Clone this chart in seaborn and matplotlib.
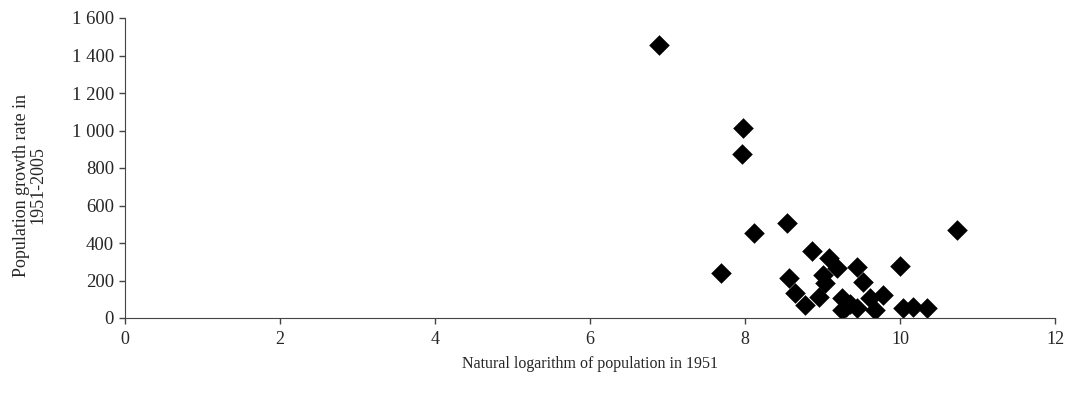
import numpy as np
import pandas as pd
import seaborn as sns
import matplotlib.pyplot as plt
from matplotlib.ticker import FuncFormatter

# natural log of 1951 population vs growth rate 1951-2005
log_pop = [6.89, 7.98, 7.96, 7.69, 8.12, 8.54, 8.86, 9.08, 9.19, 9.44,
           8.57, 9.00, 8.65, 8.78, 8.95, 9.03, 9.25, 9.25, 9.44, 9.52,
           9.61, 9.68, 9.78, 10.00, 10.04, 10.17, 10.35, 10.73, 9.35, 9.30]
growth = [1455, 1015, 875, 242, 455, 508, 357, 318, 265, 274,
          212, 229, 132, 69, 110, 185, 105, 43, 52, 194,
          105, 43, 123, 277, 52, 57, 52, 472, 75, 60]

df = pd.DataFrame({'log_pop': log_pop, 'growth': growth})

sns.set_style('ticks')
plt.rcParams['font.family'] = ['Liberation Serif', 'DejaVu Serif']

fig = plt.figure(figsize=(10.75, 4), dpi=100)
ax = fig.add_axes([0.1163, 0.205, 0.8651, 0.75])
sns.scatterplot(data=df, x='log_pop', y='growth', marker='D', s=110,
                color='black', edgecolor='black', linewidth=0, ax=ax)

ax.set_xlim(0, 12)
ax.set_ylim(0, 1600)
ax.set_xticks(range(0, 13, 2))
ax.set_yticks(range(0, 1601, 200))
ax.yaxis.set_major_formatter(FuncFormatter(lambda v, p: f'{int(v):,}'.replace(',', ' ')))
ax.tick_params(axis='x', labelsize=13, length=4, width=1, color='#444444', pad=5)
ax.tick_params(axis='y', labelsize=13.5, length=4, width=1, color='#444444', pad=4)
for side in ['top', 'right']:
    ax.spines[side].set_visible(False)
for side in ['left', 'bottom']:
    ax.spines[side].set_color('#444444')

ax.set_xlabel('Natural logarithm of population in 1951', fontsize=11.5)
ax.xaxis.set_label_coords(0.5, -0.125)
ax.set_ylabel('Population growth rate in\n1951-2005', fontsize=13, linespacing=0.95)
ax.yaxis.set_label_coords(-0.085, 0.443)

plt.savefig('out.png', dpi=100)
